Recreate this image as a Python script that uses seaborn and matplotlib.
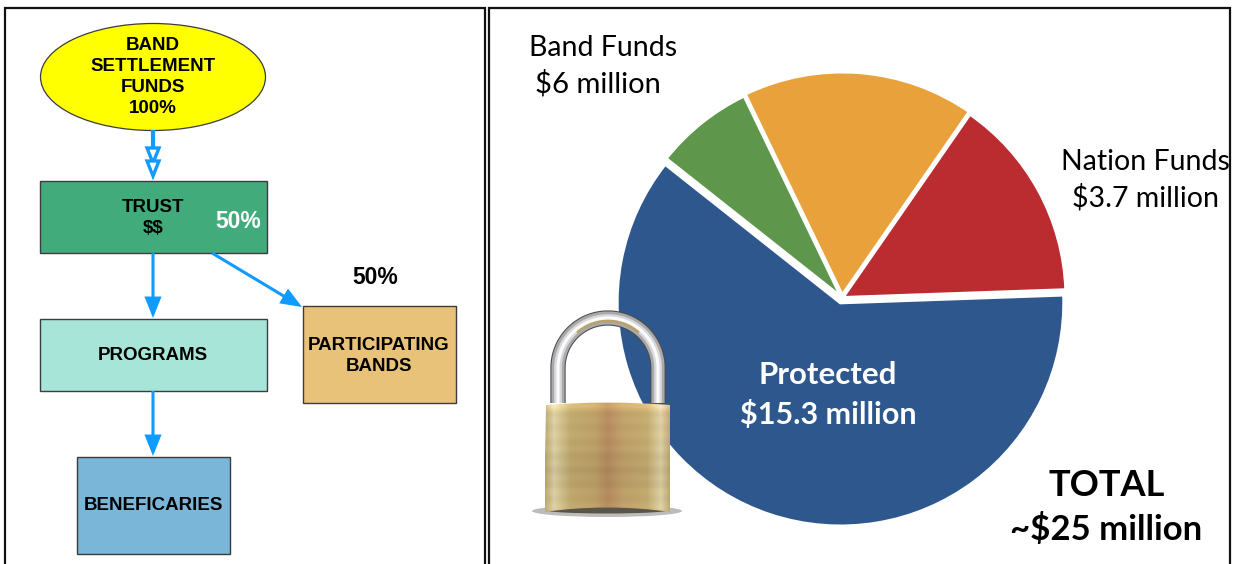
import numpy as np
import matplotlib
matplotlib.use("Agg")
import matplotlib.pyplot as plt
from matplotlib.patches import Ellipse, Rectangle, PathPatch, Polygon, FancyArrowPatch
from matplotlib.path import Path
import seaborn as sns

# Fund split in millions of dollars; the two Band slices add up to the $6 million label
slice_names = ["Nation Funds", "Band Funds A", "Band Funds B", "Protected"]
slice_values = [3.7, 4.2, 1.8, 15.3]
slice_colors = ["#BB2C31", "#E8A13B", "#5E974B", "#2E588D"]

flow_labels = ["BAND\nSETTLEMENT\nFUNDS\n100%", "TRUST\n$$", "PROGRAMS", "PARTICIPATING\nBANDS", "BENEFICARIES"]
flow_colors = ["#FFFF00", "#41AB7B", "#A7E5D9", "#E9C279", "#7AB6D8"]
arrow_blue = "#0F9BFF"

sns.set_theme(style="white")
helv = ["Liberation Sans", "DejaVu Sans"]
gill = ["Lato", "DejaVu Sans"]
W, H = 1237, 564

fig = plt.figure(figsize=(W / 100, H / 100), dpi=100, facecolor="white")

# Pie panel, centred near pixel (842, 298), slices pulled slightly apart
R, CX, CY = 223.5, 842, 298
M = 1.06
ax_pie = fig.add_axes([(CX - R * M) / W, 1 - (CY + R * M) / H, 2 * R * M / W, 2 * R * M / H], zorder=1)
ax_pie.pie(slice_values, colors=sns.color_palette(slice_colors), startangle=2, counterclock=True,
           radius=1, explode=[0.003, 0.012, 0.005, 0.022], wedgeprops=dict(edgecolor="white", linewidth=2.4))
ax_pie.set_xlim(-M, M)
ax_pie.set_ylim(-M, M)
ax_pie.set_axis_off()

# Overlay in pixel units for frames, flow chart, padlock and captions
ax = fig.add_axes([0, 0, 1, 1], zorder=2)
ax.patch.set_alpha(0)
ax.set_xlim(0, W)
ax.set_ylim(H, 0)
ax.set_axis_off()

# Panel frames run off the lower edge
for x0, x1 in [(5, 485), (489, 1230)]:
    ax.plot([x0, x0, x1, x1], [H + 5, 8, 8, H + 5], color="#111111", lw=1.6, solid_joinstyle="miter")

edge = "#3c3c3c"
ax.add_patch(Ellipse((153, 77), 225, 107, fc=flow_colors[0], ec=edge, lw=0.9))
boxes = [(40, 181, 227, 72, 1), (40, 319, 227, 72, 2), (303, 306, 153, 97, 3), (77, 457, 153, 97, 4)]
for x, y, w, h, i in boxes:
    ax.add_patch(Rectangle((x, y), w, h, fc=flow_colors[i], ec=edge, lw=1.0))

def label(x, y, s, color="black", size=13.5, spacing=1.32):
    ax.text(x, y, s, color=color, fontsize=size, fontweight="bold", family=helv,
            ha="center", va="center", linespacing=spacing, parse_math=False)

label(153, 77, flow_labels[0])
label(153, 218, flow_labels[1])
label(153, 356, flow_labels[2])
label(379, 356, flow_labels[3])
label(153, 506, flow_labels[4])
label(238, 221, "50%", color="white", size=16.5)
label(375, 277, "50%", size=16.5)

def arrow(p0, p1):
    ax.add_patch(FancyArrowPatch(p0, p1, arrowstyle="-|>,head_length=0.95,head_width=0.38",
                                 mutation_scale=12, color=arrow_blue, lw=2.2, shrinkA=0, shrinkB=0,
                                 joinstyle="miter", capstyle="butt"))

# Double hollow head on the top link
ax.plot([153, 153], [130, 150], color=arrow_blue, lw=3, solid_capstyle="butt")
for top in (148, 161):
    ax.add_patch(Polygon([(147, top), (159, top), (153, top + 15)], closed=True,
                         fc="white", ec=arrow_blue, lw=2.4, joinstyle="miter", zorder=3))
arrow((153, 253), (153, 318))
arrow((212, 253), (302, 307))
arrow((153, 391), (153, 456))

# Padlock: ground shadow, steel shackle, brass body
ax.add_patch(Ellipse((607, 511), 150, 12, fc="#a0a0a0", ec="none", alpha=0.7, zorder=3))
ax.add_patch(Ellipse((607, 510), 124, 7, fc="#5a554a", ec="none", zorder=3))

theta = np.linspace(np.pi, 0, 80)
sx = np.r_[558, 608 + 50 * np.cos(theta), 658]
sy = np.r_[403, 368 - 50 * np.sin(theta), 403]
for lw, col in [(11.0, "#4a4a4a"), (9.5, "#a9a9ab"), (5.5, "#d9d9db"), (2.2, "#fbfbfb")]:
    ax.plot(sx, sy, color=col, lw=lw, solid_capstyle="butt", zorder=4)
ax.plot(608 + 47 * np.cos(theta[22:58]), 368 - 47 * np.sin(theta[22:58]), color="#b8a26a", lw=1.8, zorder=4)

stops = np.array([0, .07, .2, .4, .5, .62, .82, .93, 1])
u = np.linspace(0, 1, 125)
r = np.interp(u, stops, [190, 222, 192, 190, 182, 192, 196, 222, 190])
g = np.interp(u, stops, [172, 208, 170, 160, 140, 160, 172, 208, 172])
b = np.interp(u, stops, [118, 164, 110, 104, 96, 106, 112, 164, 116])
rows = np.linspace(0, 1, 110)
shade = (1 + 0.018 * np.sin(rows * 48) - 0.05 * np.exp(-((rows - .62) / .2) ** 2)
         + 0.12 * np.exp(-((rows - 0.02) / 0.06) ** 2))
body = np.clip(np.stack([r, g, b], -1)[None, :, :] * shade[:, None, None] / 255, 0, 1)
img = ax.imshow(body, extent=(545, 670, 512, 402), aspect="auto", zorder=5, interpolation="bilinear")
outline = Path([(546, 405), (607, 400), (670, 405), (671, 512), (607, 503), (544, 512), (546, 405)],
               [Path.MOVETO, Path.CURVE3, Path.CURVE3, Path.LINETO, Path.CURVE3, Path.CURVE3, Path.CLOSEPOLY])
img.set_clip_path(PathPatch(outline, transform=ax.transData))
ax.set_xlim(0, W)
ax.set_ylim(H, 0)

# Captions
def caption(x, y, s, color="black", size=20.5, weight="normal"):
    ax.text(x, y, s, color=color, fontsize=size, fontweight=weight, family=gill,
            ha="center", va="center", zorder=6, parse_math=False)

caption(603, 48, "Band Funds")
caption(598, 84, "$6 million", size=21)
caption(1145, 162, "Nation Funds")
caption(1146, 198, "$3.7 million")
caption(828, 375, "Protected", color="white", size=22.5, weight="bold")
caption(828, 414, "$15.3 million", color="white", size=22, weight="bold")
caption(1107, 485, "TOTAL", size=26, weight="bold")
caption(1106, 530, "~$25 million", size=25, weight="bold")

fig.savefig("out.png", dpi=100, facecolor="white")
